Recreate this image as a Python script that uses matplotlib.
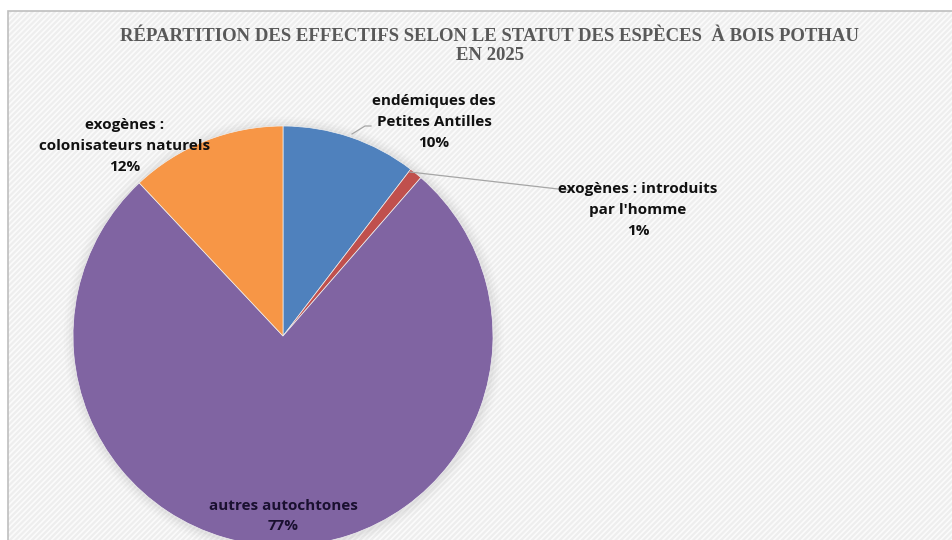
import matplotlib
matplotlib.use("Agg")
import matplotlib.pyplot as plt
from matplotlib.patches import Rectangle, Circle

categories = ["endémiques des\nPetites Antilles", "exogènes : introduits\npar l'homme",
              "autres autochtones", "exogènes :\ncolonisateurs naturels"]
values = [10.4, 1.0, 76.6, 12.0]
pct_labels = ["10%", "1%", "77%", "12%"]
colors = ["#4F81BD", "#C0504D", "#8064A2", "#F79646"]

W, H = 952, 540
fig = plt.figure(figsize=(W / 100, H / 100), dpi=100)
fig.patch.set_facecolor("white")

# background panel with diagonal hatch and border
plt.rcParams['hatch.linewidth'] = 1.6
bg = Rectangle((8 / W, 0), 1.2, 1 - 11 / H, transform=fig.transFigure,
               facecolor="#fbfbfb", edgecolor="#eeeeee", hatch="//////", lw=0,
               zorder=-10)
fig.patches.append(bg)
border = Rectangle((8 / W, -0.1), 1.2, 1.1 - 11 / H, transform=fig.transFigure,
                   facecolor="none", edgecolor="#bfbfbf", lw=1.2, zorder=-9)
fig.patches.append(border)

cx, cy, r = 283, 336, 210
ax = fig.add_axes([(cx - r) / W, 1 - (cy + r) / H, 2 * r / W, 2 * r / H])
ax.set_zorder(1)
ax.axis("off")
ax.patch.set_alpha(0)

# soft shadow
for i, a in enumerate([0.06, 0.045, 0.03, 0.02]):
    ax.add_patch(Circle((0.004, -0.004), 1 + 0.012 * (i + 1), color="#808080",
                        alpha=a, lw=0, zorder=0, clip_on=False))

wedges, _ = ax.pie(values, colors=colors, startangle=90, counterclock=False,
                   radius=1, wedgeprops=dict(lw=0.5, edgecolor="#f0f0f0"))
for w in wedges:
    w.set_clip_on(False)
ax.set_xlim(-1, 1)
ax.set_ylim(-1, 1)
ax.set_aspect("auto")

def px(x, y):
    return x / W, 1 - y / H

font = "Open Sans"
fs = 11
ls = 1.6
fig.text(*px(434, 122), categories[0] + "\n" + pct_labels[0], ha="center", va="center",
         fontsize=fs, fontweight="bold", family=font, linespacing=ls, color="#111111", zorder=5)
fig.text(*px(638, 210), categories[1] + "\n" + pct_labels[1], ha="center", va="center",
         fontsize=fs, fontweight="bold", family=font, linespacing=ls, color="#111111", zorder=5)
fig.text(*px(283, 516), categories[2] + "\n" + pct_labels[2], ha="center", va="center",
         fontsize=fs, fontweight="bold", family=font, linespacing=ls, color="#1a1030", zorder=5)
fig.text(*px(125, 146), categories[3] + "\n" + pct_labels[3], ha="center", va="center",
         fontsize=fs, fontweight="bold", family=font, linespacing=ls, color="#111111", zorder=5)

# leader lines
l1 = plt.Line2D([px(410, 172)[0], px(567, 190)[0], px(570, 190)[0]],
                [px(410, 172)[1], px(567, 190)[1], px(570, 190)[1]],
                color="#a6a6a6", lw=0.9, zorder=5)
l2 = plt.Line2D([px(352, 134)[0], px(365, 126)[0], px(371, 126)[0]],
                [px(352, 134)[1], px(365, 126)[1], px(371, 126)[1]],
                color="#a6a6a6", lw=0.9, zorder=5)
fig.add_artist(l1)
fig.add_artist(l2)

fig.text(*px(490, 46), "RÉPARTITION DES EFFECTIFS SELON LE STATUT DES ESPÈCES  À BOIS POTHAU\nEN 2025",
         ha="center", va="center", fontsize=13.5, fontweight="bold",
         family="Liberation Serif", color="#595959", linespacing=1.2, zorder=5)

fig.savefig("out.png", dpi=100)
